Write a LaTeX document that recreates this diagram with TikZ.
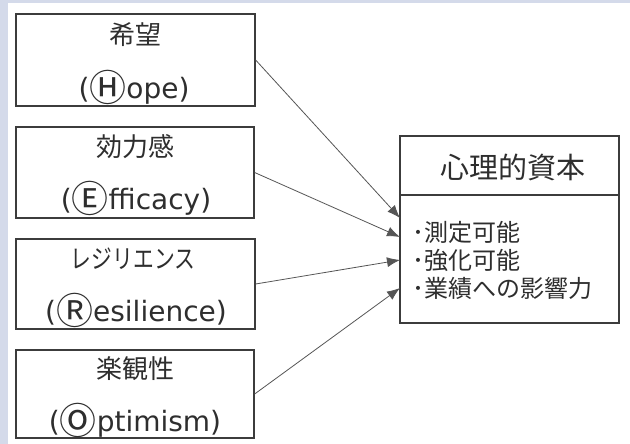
\documentclass[tikz,border=0pt]{standalone}
\usepackage{fontspec}
\setmainfont{DejaVu Sans}
\newfontfamily\jp{Noto Sans CJK JP}
\newfontfamily\jpn[FakeStretch=0.8]{Noto Sans CJK JP}
\usetikzlibrary{arrows.meta}
\definecolor{bgl}{HTML}{D4DAEA}
\definecolor{txt}{HTML}{2E2E2E}
\definecolor{edge}{HTML}{3C3C3C}
\definecolor{arr}{HTML}{555555}
\tikzset{
  srcbox/.style={draw=edge, line width=1.3pt, fill=white, inner sep=0pt},
  cjk/.style={text=txt, inner sep=0pt, font=\jp\fontsize{26}{28}\selectfont},
  lat/.style={text=txt, inner sep=0pt, font=\fontsize{28}{32}\selectfont},
  item/.style={text=txt, inner sep=0pt, anchor=west, font=\jp\fontsize{24}{28}\selectfont},
  link/.style={draw=arr, line width=0.8pt, -{Latex[length=13pt,width=10pt]}}
}
\newcommand{\cl}[1]{{\jp\fontsize{37}{38}\selectfont\raisebox{-3pt}{#1}}}
\begin{document}
\begin{tikzpicture}[x=1pt,y=-1pt]
\useasboundingbox (0,0) rectangle (630,444);
\fill[bgl] (0,0) rectangle (630,444);
\fill[white] (8,3) rectangle (630,444);
% source boxes
\node[srcbox, minimum width=239pt, minimum height=92pt] (h) at (135.5,60) {};
\node[srcbox, minimum width=238pt, minimum height=91pt] (e) at (135,172.5) {};
\node[srcbox, minimum width=239pt, minimum height=90pt] (r) at (135.5,284) {};
\node[srcbox, minimum width=238pt, minimum height=88pt] (o) at (135,394) {};
% texts
\node[cjk] (h1) at (135,35) {希望};
\node[lat] (h2) at (134,87) {(\cl{Ⓗ}ope)};
\node[cjk] (e1) at (135,147) {効力感};
\node[lat] (e2) at (136,198) {(\cl{Ⓔ}fficacy)};
\node[cjk, font=\jpn\fontsize{26}{28}\selectfont] (r1) at (133,259) {レジリエンス};
\node[lat] (r2) at (136,310) {(\cl{Ⓡ}esilience)};
\node[cjk] (o1) at (135,369) {楽観性};
\node[lat] (o2) at (135,420) {(\cl{Ⓞ}ptimism)};
% target box
\node[srcbox, minimum width=219pt, minimum height=187pt] (cap) at (509.5,229.5) {};
\draw[draw=edge, line width=1.3pt] (cap.west |- 0,195) coordinate (dl) -- (cap.east |- 0,195) coordinate (dr);
\node[cjk, font=\jp\fontsize{29}{30}\selectfont] (title) at (513,167) {心理的資本};
\node[item] (i1) at (412,232) {･測定可能};
\node[item] (i2) at (412,260) {･強化可能};
\node[item] (i3) at (412,288) {･業績への影響力};
% arrow ends
\coordinate (t1) at (400,218);
\coordinate (t2) at (400,237);
\coordinate (t3) at (400,260);
\coordinate (t4) at (400,288);
\draw[link] (h.east) -- (t1);
\draw[link] (e.east) -- (t2);
\draw[link] (r.east) -- (t3);
\draw[link] (o.east) -- (t4);
\end{tikzpicture}
\end{document}
